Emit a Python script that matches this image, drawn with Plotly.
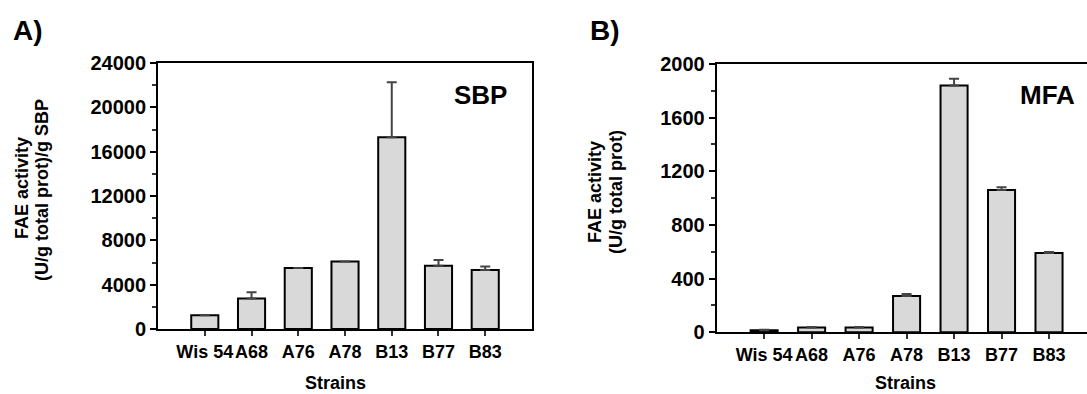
import plotly.graph_objects as go

# FAE activity per strain, grown on sugar beet pulp (SBP) and on methyl ferulate (MFA)
strains = ["Wis 54", "A68", "A76", "A78", "B13", "B77", "B83"]

sbp_activity = [1250, 2750, 5500, 6100, 17300, 5700, 5330]
sbp_error = [0, 560, 0, 0, 4960, 530, 300]

mfa_activity = [15, 35, 35, 270, 1840, 1060, 590]
mfa_error = [2, 3, 3, 15, 50, 20, 8]

sbp_ticks = [0, 4000, 8000, 12000, 16000, 20000, 24000]
mfa_ticks = [0, 400, 800, 1200, 1600, 2000]

FONT = "Liberation Sans, Arial, sans-serif"
BAR_FILL = "#d9d9d9"

fig = go.Figure()

fig.add_trace(go.Bar(
    x=strains, y=sbp_activity, width=0.58,
    marker=dict(color=BAR_FILL, line=dict(color="black", width=2)),
    error_y=dict(type="data", array=sbp_error, symmetric=False, arrayminus=[0] * 7,
                 color="#444444", thickness=2, width=5),
    xaxis="x", yaxis="y", showlegend=False,
))

fig.add_trace(go.Bar(
    x=strains, y=mfa_activity, width=0.57,
    marker=dict(color=BAR_FILL, line=dict(color="black", width=2)),
    error_y=dict(type="data", array=mfa_error, symmetric=False, arrayminus=[0] * 7,
                 color="#444444", thickness=2, width=5),
    xaxis="x2", yaxis="y2", showlegend=False,
))

xtick_font = dict(family=FONT, size=18, color="black", weight="bold")
ytick_font = dict(family=FONT, size=20, color="black", weight="bold")

xaxis_common = dict(
    type="category", tickangle=0, ticks="outside", ticklen=5, tickwidth=2,
    tickcolor="#333333", showline=True, linecolor="black", linewidth=2,
    showgrid=False, tickfont=xtick_font, zeroline=False, automargin=False,
)
yaxis_common = dict(
    ticks="outside", ticklen=6, tickwidth=2, tickcolor="black", tickformat="d",
    showline=True, linecolor="black", linewidth=2, showgrid=False,
    tickfont=ytick_font, zeroline=False, automargin=False,
)

fig.update_layout(
    width=1087, height=394,
    margin=dict(l=0, r=0, t=0, b=0),
    paper_bgcolor="white", plot_bgcolor="white",
    xaxis=dict(domain=[0.1454, 0.4894], range=[-1, 7], mirror=True,
               anchor="y", **xaxis_common),
    yaxis=dict(domain=[0.165, 0.840], range=[0, 24000], tickvals=sbp_ticks,
               mirror=True, anchor="x",
               minor=dict(dtick=2000, ticks="outside", ticklen=4, tickwidth=2,
                          tickcolor="#333333"),
               **yaxis_common),
    xaxis2=dict(domain=[0.6593, 1.0], range=[-1, 6.8], mirror=True,
                anchor="y2", **xaxis_common),
    yaxis2=dict(domain=[0.157, 0.8376], range=[0, 2000], tickvals=mfa_ticks,
                anchor="x2",
                minor=dict(dtick=200, ticks="outside", ticklen=4, tickwidth=2,
                           tickcolor="#333333"),
                **yaxis_common),
)

def label(text, x, y, size, angle=0, yanchor="middle"):
    fig.add_annotation(
        text=text, x=x / 1087, y=1 - y / 394, xref="paper", yref="paper",
        xanchor="center", yanchor=yanchor, showarrow=False, textangle=angle,
        borderpad=0,
        font=dict(family=FONT, size=size, color="black", weight="bold"),
    )

# Panel letters
label("A)", 28, 31, 28)
label("B)", 605, 31, 28)

# Substrate tags inside the plots
label("SBP", 480, 95, 26)
label("MFA", 1047, 95, 26)

# Y-axis titles, one annotation per line for tight line spacing
label("FAE activity", 22, 188, 18, angle=-90)
label("(U/g total prot)/g SBP", 42, 190, 18, angle=-90)
label("FAE activity", 595, 192, 18, angle=-90)
label("(U/g total prot)", 616, 192, 18, angle=-90)

# X-axis titles
label("Strains", 335, 394, 18, yanchor="bottom")
label("Strains", 905, 394, 18, yanchor="bottom")

fig.write_html("out.html")
